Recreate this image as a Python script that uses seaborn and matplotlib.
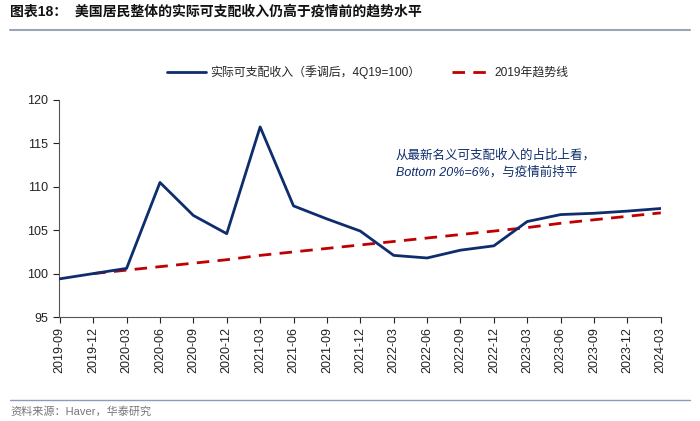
import pandas as pd
import matplotlib
matplotlib.use("Agg")
import matplotlib.pyplot as plt
import seaborn as sns

sns.set_style("white")
plt.rcParams['font.family'] = ['Liberation Sans', 'Noto Sans CJK SC', 'DejaVu Sans']

# quarters on the x axis
quarters = ["2019-09", "2019-12", "2020-03", "2020-06", "2020-09", "2020-12",
            "2021-03", "2021-06", "2021-09", "2021-12", "2022-03", "2022-06",
            "2022-09", "2022-12", "2023-03", "2023-06", "2023-09", "2023-12",
            "2024-03"]

# real disposable income, 4Q19=100
income = [99.4, 100.0, 100.6, 110.5, 106.7, 104.6, 116.9, 107.8, 106.3, 104.9,
          102.1, 101.8, 102.7, 103.2, 106.0, 106.8, 106.95, 107.2, 107.5]

# 2019 trend line, starts at 2019-12
trend_quarters = quarters[1:]
trend = [100.0, 100.4, 100.8, 101.2, 101.6, 102.1, 102.5, 102.9, 103.3, 103.7,
         104.1, 104.5, 104.9, 105.3, 105.8, 106.2, 106.6, 107.0]

df = pd.DataFrame({"quarter": quarters, "income": income})
df_trend = pd.DataFrame({"quarter": trend_quarters, "trend": trend})

label_income = "实际可支配收入（季调后，4Q19=100）"
label_trend = "2019年趋势线"

fig = plt.figure(figsize=(7, 4.21), dpi=100)
ax = fig.add_axes([0.084, 0.247, 0.86, 0.5155])

sns.lineplot(data=df, x="quarter", y="income", ax=ax, color="#0d2d6c",
             linewidth=2.0, label=label_income, sort=False, zorder=3)
sns.lineplot(data=df_trend, x="quarter", y="trend", ax=ax, color="#c00000",
             linewidth=2.0, dashes=False, label=label_trend, sort=False, zorder=2)
ax.lines[1].set_linestyle((0, (4.5, 3)))

ax.set_ylim(95, 120)
ax.set_yticks([95, 100, 105, 110, 115, 120])
ax.set_xlim(-0.03, 17.15)
ax.set_xticks(range(len(quarters)))
ax.set_xticklabels(quarters, rotation=90)
ax.set_xlabel("")
ax.set_ylabel("")
ax.tick_params(axis="both", labelsize=9, colors="#222222", direction="out",
               length=4, width=0.8, bottom=True, left=True)
for s in ["top", "right"]:
    ax.spines[s].set_visible(False)
for s in ["left", "bottom"]:
    ax.spines[s].set_color("#555555")
    ax.spines[s].set_linewidth(0.8)

handles, labels = ax.get_legend_handles_labels()
ax.get_legend().remove()
handles[1].set_linestyle((0, (4.5, 3)))
fig.legend(handles, labels, loc="center", bbox_to_anchor=(368 / 700, 1 - 72 / 421),
           ncol=2, frameon=False, fontsize=8.6, handlelength=3.2, columnspacing=2.6,
           handletextpad=0.4)

# annotation
ax.text(0.56, 0.705, "从最新名义可支配收入的占比上看，\nBottom 20%=6%，与疫情前持平",
        transform=ax.transAxes, fontsize=9, color="#0d2d6c", style="italic",
        linespacing=1.5, va="center", ha="left")

# title and source
fig.text(10 / 700, 1 - 12 / 421, "图表18：  美国居民整体的实际可支配收入仍高于疫情前的趋势水平",
         fontsize=10, fontweight="bold", color="#111111", va="center", ha="left")
fig.add_artist(plt.Line2D([10 / 700, 690 / 700], [1 - 30 / 421, 1 - 30 / 421],
                          color="#9aa5b5", linewidth=1.5))
fig.add_artist(plt.Line2D([10 / 700, 690 / 700], [1 - 400 / 421, 1 - 400 / 421],
                          color="#8a9bc0", linewidth=1.0))
fig.text(10 / 700, 1 - 411 / 421, "资料来源：Haver，华泰研究", fontsize=8,
         color="#777777", va="center", ha="left")

fig.savefig("out.png", dpi=100)
